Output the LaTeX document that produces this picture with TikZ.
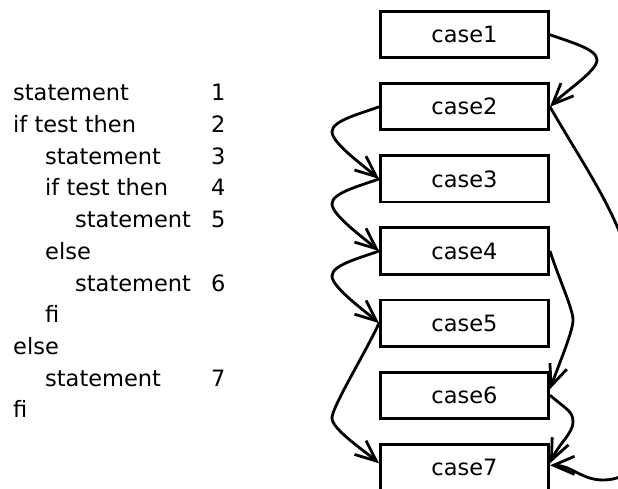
\documentclass[tikz,border=0pt]{standalone}
\usepackage{fontspec}
\setmainfont{DejaVu Sans}
\usetikzlibrary{arrows.meta}
\begin{document}
\begin{tikzpicture}[x=1pt,y=1pt,
  casebox/.style={draw, line width=2.9pt, minimum width=168pt, minimum height=46.3pt,
    inner sep=0pt, font=\fontsize{22.5}{27}\selectfont},
  codeline/.style={anchor=base west, inner sep=0pt, font=\fontsize{22.5}{27}\selectfont},
  flow/.style={line width=2.8pt, -{Straight Barb[length=21pt,width=18pt]}},
  leave/.style={out distance=#1, in distance=11pt},
  leave/.default=22pt,
  arrive/.style={out distance=11pt, in distance=#1},
  arrive/.default=22pt,
]
\clip (0,0) rectangle (618,488);
\fill[white] (0,0) rectangle (618,488);

% program text with statement numbers
\node[codeline] (l1)  at (13,387.0) {statement};
\node[codeline] (l2)  at (13,355.3) {if test then};
\node[codeline] (l3)  at (45,323.7) {statement};
\node[codeline] (l4)  at (45,292.0) {if test then};
\node[codeline] (l5)  at (75,260.3) {statement};
\node[codeline] (l6)  at (45,228.7) {else};
\node[codeline] (l7)  at (75,197.0) {statement};
\node[codeline] (l8)  at (45,165.3) {fi};
\node[codeline] (l9)  at (13,133.7) {else};
\node[codeline] (l10) at (45,102.0) {statement};
\node[codeline] (l11) at (13,70.3)  {fi};

\node[codeline] (n1) at (211,387.0) {1};
\node[codeline] (n2) at (211,355.3) {2};
\node[codeline] (n3) at (211,323.7) {3};
\node[codeline] (n4) at (211,292.0) {4};
\node[codeline] (n5) at (211,260.3) {5};
\node[codeline] (n6) at (211,197.0) {6};
\node[codeline] (n7) at (211,102.0) {7};

% control-flow cases
\node[casebox] (c1) at (464.5,453.3) {case1};
\node[casebox] (c2) at (464.5,381.2) {case2};
\node[casebox] (c3) at (464.5,309.1) {case3};
\node[casebox] (c4) at (464.5,237.0) {case4};
\node[casebox] (c5) at (464.5,164.9) {case5};
\node[casebox] (c6) at (464.5,92.8)  {case6};
\node[casebox] (c7) at (464.5,20.7)  {case7};

% turning points of the transitions
\coordinate (r12) at (597,428);
\coordinate (l23) at (332,356.2);
\coordinate (l34) at (332,284.1);
\coordinate (l45) at (332,212.0);
\coordinate (l57) at (332,70);
\coordinate (r46) at (573,168);
\coordinate (r67) at (573,66);
\coordinate (r27a) at (640,150);
\coordinate (r27b) at (603,8);

% transitions
\draw[flow] (c1.east) to[out=-20,in=90,leave] (r12) to[out=-90,in=45,arrive] (c2.east);
\draw[flow] (c2.west) to[out=200,in=90,leave] (l23) to[out=-90,in=140,arrive] (c3.west);
\draw[flow] (c3.west) to[out=200,in=90,leave] (l34) to[out=-90,in=140,arrive] (c4.west);
\draw[flow] (c4.west) to[out=200,in=90,leave] (l45) to[out=-90,in=140,arrive] (c5.west);
\draw[flow] (c2.east) to[out=-60,in=90] (r27a) to[out=-90,in=0] (r27b)
  to[out=180,in=0] ([yshift=2pt]c7.east);
\draw[flow] (c4.east) to[out=-72,in=90,leave=30pt] (r46)
  to[out=-90,in=70,arrive=30pt] ([yshift=6pt]c6.east);
\draw[flow] (c6.east) to[out=-41,in=90,leave] (r67) to[out=-90,in=65,arrive] ([yshift=4pt]c7.east);
\draw[flow] (c5.west) to[out=245,in=90,leave=35pt] (l57) to[out=-90,in=140,arrive] ([yshift=4pt]c7.west);
\end{tikzpicture}
\end{document}
